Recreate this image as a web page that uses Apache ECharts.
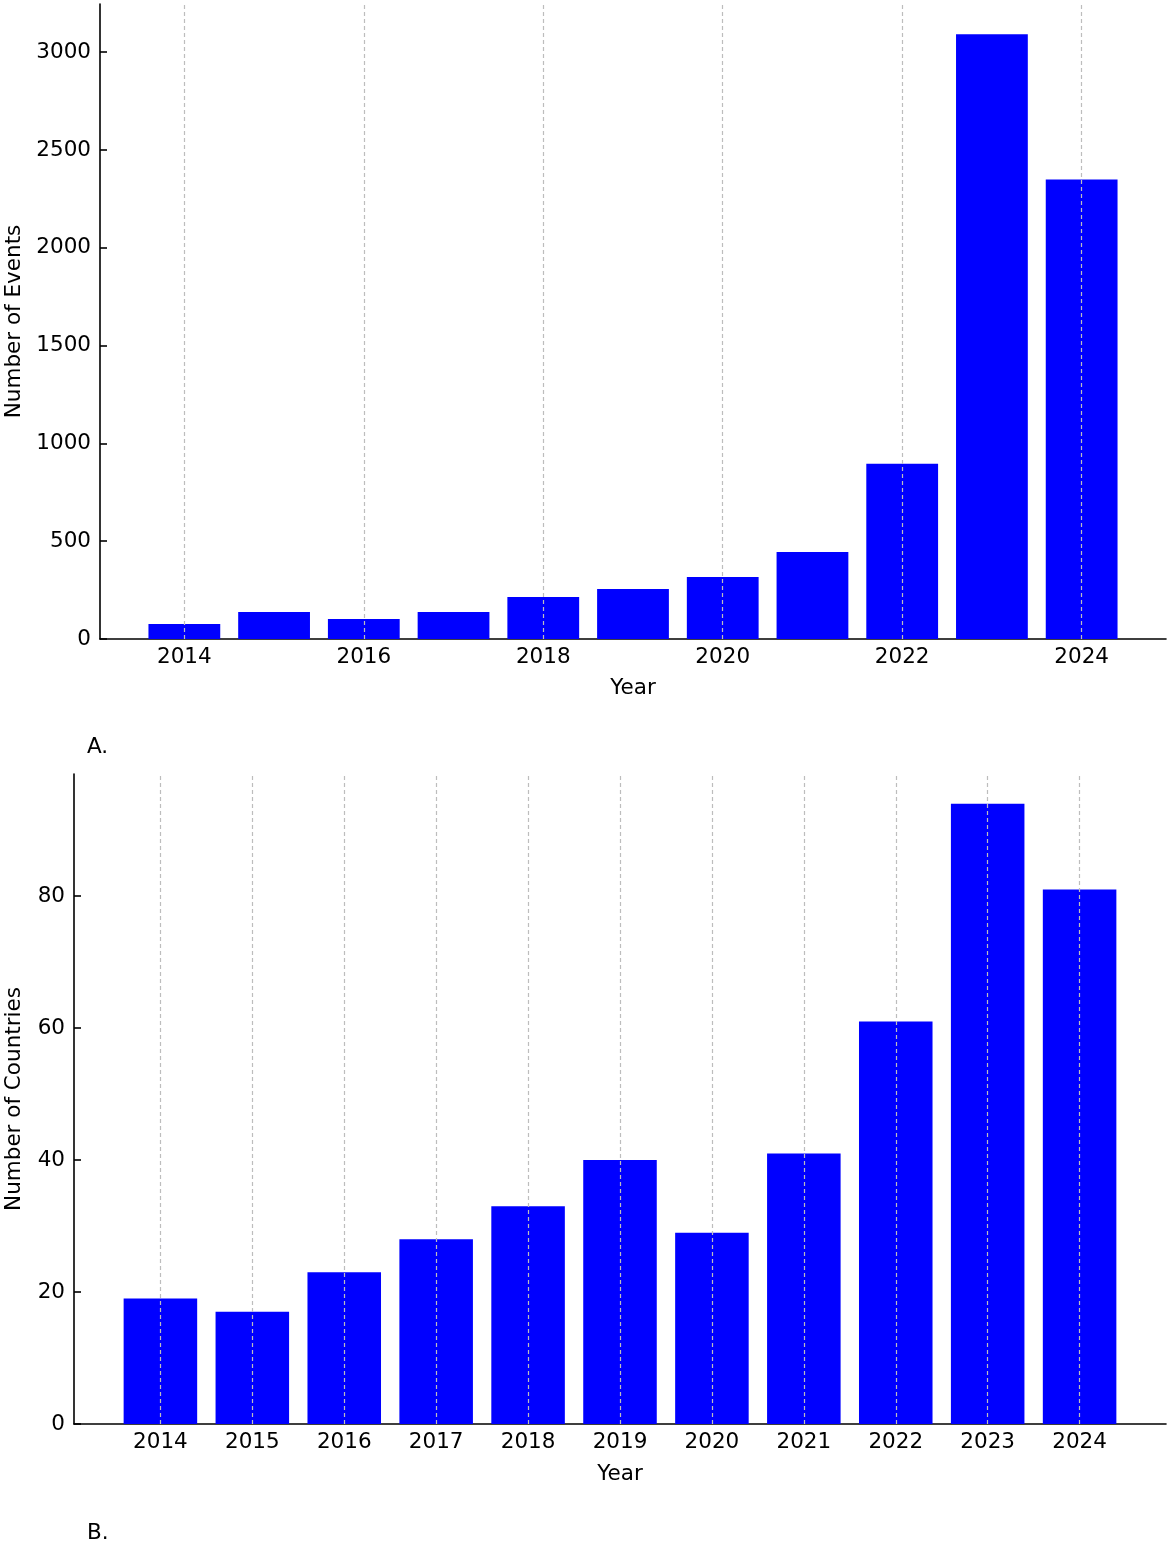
<!DOCTYPE html>
<html>
<head>
<meta charset="utf-8">
<script src="https://cdn.jsdelivr.net/npm/echarts@6/dist/echarts.min.js"></script>
<style>html,body{margin:0;padding:0;background:#fff}#c{width:1170px;height:1544px}</style>
</head>
<body>
<div id="c"></div>
<script>
// Panel A: number of events per year
const yearsA = [2014, 2015, 2016, 2017, 2018, 2019, 2020, 2021, 2022, 2023, 2024];
const eventsA = [77, 138, 102, 138, 215, 256, 317, 445, 896, 3091, 2349];
const xTicksA = [2014, 2016, 2018, 2020, 2022, 2024];
const yTicksA = [0, 500, 1000, 1500, 2000, 2500, 3000];

// Panel B: number of countries per year
const yearsB = [2014, 2015, 2016, 2017, 2018, 2019, 2020, 2021, 2022, 2023, 2024];
const countriesB = [19, 17, 23, 28, 33, 40, 29, 41, 61, 94, 81];
const xTicksB = [2014, 2015, 2016, 2017, 2018, 2019, 2020, 2021, 2022, 2023, 2024];
const yTicksB = [0, 20, 40, 60, 80];

const FONT = 'DejaVu Sans';
const FS = 21.5;
const xMin = 2013.06, xMax = 2024.94;
const gA = {left: 100, top: 4, width: 1066, height: 635, containLabel: false, outerBoundsMode: 'none'};
const gB = {left: 74, top: 774, width: 1092, height: 650, containLabel: false, outerBoundsMode: 'none'};

function xAxisDef(gridIndex, ticks, gap) {
  return {
    type: 'value', gridIndex, min: xMin, max: xMax,
    name: 'Year', nameLocation: 'middle', nameGap: gap,
    nameTextStyle: {fontFamily: FONT, fontSize: FS, color: '#000'},
    axisLine: {show: true, lineStyle: {color: '#000', width: 1.6}},
    axisTick: {show: true, inside: true, length: 7, lineStyle: {color: '#000', width: 1.6}, customValues: ticks},
    axisLabel: {fontFamily: FONT, fontSize: FS, color: '#000', margin: 7, customValues: ticks, formatter: v => String(Math.round(v))},
    splitLine: {show: false}
  };
}
function yAxisDef(gridIndex, ticks, max, name, gap) {
  return {
    type: 'value', gridIndex, min: 0, max: max,
    name: name, nameLocation: 'middle', nameGap: gap,
    nameTextStyle: {fontFamily: FONT, fontSize: FS, color: '#000'},
    axisLine: {show: true, lineStyle: {color: '#000', width: 1.6}},
    axisTick: {show: true, inside: true, length: 7, lineStyle: {color: '#000', width: 1.6}, customValues: ticks},
    axisLabel: {fontFamily: FONT, fontSize: FS, color: '#000', margin: 9, customValues: ticks, formatter: v => String(Math.round(v))},
    splitLine: {show: false}
  };
}
function gridLines(ticks) {
  return {
    silent: true, symbol: 'none', animation: false,
    label: {show: false},
    lineStyle: {color: '#bdbdbd', type: [4, 3], width: 1.2},
    data: ticks.map(t => ({xAxis: t}))
  };
}
function barSeries(idx, years, vals, ticks, g) {
  return {
    type: 'bar', xAxisIndex: idx, yAxisIndex: idx,
    data: years.map((y, i) => [y, vals[i]]),
    barWidth: 0.8 * g.width / (xMax - xMin),
    itemStyle: {color: '#0000ff'},
    animation: false,
    markLine: gridLines(ticks)
  };
}

const chart = echarts.init(document.getElementById('c'), null, {renderer: 'canvas'});
chart.setOption({
  backgroundColor: '#fff',
  animation: false,
  grid: [gA, gB],
  xAxis: [xAxisDef(0, xTicksA, 38), xAxisDef(1, xTicksB, 39)],
  yAxis: [
    yAxisDef(0, yTicksA, 3246, 'Number of Events', 75),
    yAxisDef(1, yTicksB, 98.5, 'Number of Countries', 49)
  ],
  series: [
    barSeries(0, yearsA, eventsA, xTicksA, gA),
    barSeries(1, yearsB, countriesB, xTicksB, gB)
  ],
  graphic: [
    {type: 'text', left: 87, top: 736, style: {text: 'A.', fontFamily: FONT, fontSize: FS, fill: '#000'}},
    {type: 'text', left: 87, top: 1522, style: {text: 'B.', fontFamily: FONT, fontSize: FS, fill: '#000'}}
  ]
});
</script>
</body>
</html>
